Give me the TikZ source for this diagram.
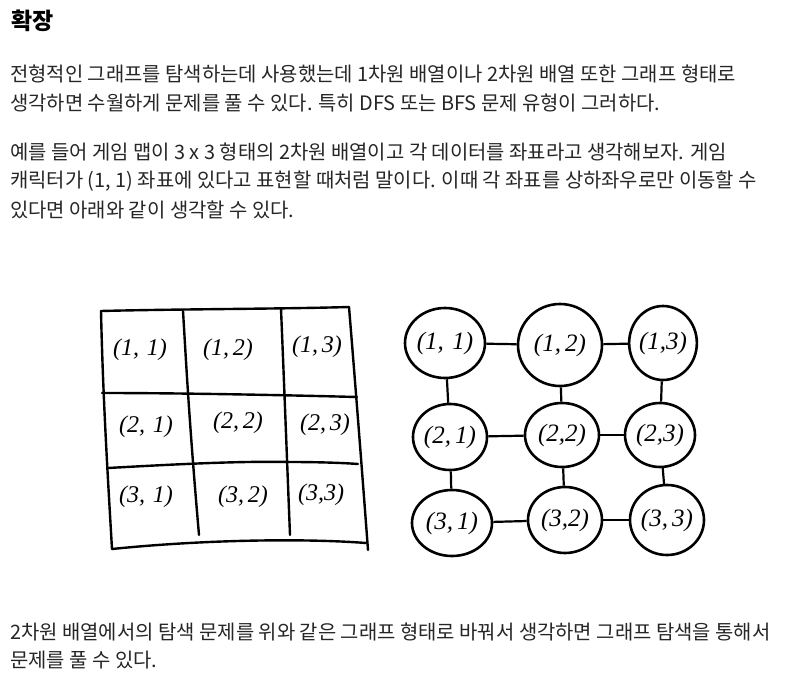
\documentclass[tikz,border=0pt]{standalone}
\usepackage{fontspec}
\setmainfont{Noto Sans CJK KR}
\newfontfamily\handfont{Liberation Serif}
\usetikzlibrary{shapes.geometric}
\begin{document}
\begin{tikzpicture}[x=1pt,y=-1pt,
  txt/.style={anchor=west, inner sep=0pt, font=\fontsize{19.9}{24}\selectfont, text=black!85},
  ttl/.style={anchor=west, inner sep=0pt, font=\fontsize{23}{27}\selectfont\bfseries},
  hand/.style={inner sep=0pt, font=\handfont\itshape\fontsize{24}{28}\selectfont},
  pen/.style={line width=2.4pt, line cap=round, line join=round},
  vtx/.style={ellipse, draw, line width=2.6pt, inner sep=0pt, font=\handfont\itshape\fontsize{25}{28}\selectfont},
  edge/.style={line width=2.2pt}]
\useasboundingbox (0,0) rectangle (787,687);
\fill[white] (0,0) rectangle (787,687);
% text
\node[ttl] (title) at (11,21) {확장};
\node[txt] (p1a) at (10,74) {전형적인 그래프를 탐색하는데 사용했는데 1차원 배열이나 2차원 배열 또한 그래프 형태로};
\node[txt] (p1b) at (10,103) {생각하면 수월하게 문제를 풀 수 있다. 특히 DFS 또는 BFS 문제 유형이 그러하다.};
\node[txt] (p2a) at (10,152) {예를 들어 게임 맵이 3 x 3 형태의 2차원 배열이고 각 데이터를 좌표라고 생각해보자. 게임};
\node[txt] (p2b) at (10,181) {캐릭터가 (1, 1) 좌표에 있다고 표현할 때처럼 말이다. 이때 각 좌표를 상하좌우로만 이동할 수};
\node[txt] (p2c) at (10,210) {있다면 아래와 같이 생각할 수 있다.};
\node[txt] (p3a) at (10,632) {2차원 배열에서의 탐색 문제를 위와 같은 그래프 형태로 바꿔서 생각하면 그래프 탐색을 통해서};
\node[txt] (p3b) at (10,660) {문제를 풀 수 있다.};
% grid
\coordinate (TL) at (101,311);
\coordinate (TR) at (349,307);
\coordinate (BL) at (112,549);
\coordinate (BR) at (368,550);
\draw[pen] (TL) .. controls (180,309) and (280,309) .. (TR);
\draw[pen] (TL) .. controls (103,400) and (108,480) .. (BL);
\draw[pen] (BL) .. controls (200,540) and (300,538) .. (366,543);
\draw[pen] (TR) .. controls (355,380) and (362,470) .. (BR);
\draw[pen] (102,393) .. controls (180,393) and (280,395) .. (357,397);
\draw[pen] (108,468) .. controls (180,464) and (240,461) .. (290,462) .. controls (320,462) and (345,463) .. (358,464);
\draw[pen] (183,311) .. controls (186,360) and (189,420) .. (199,535);
\draw[pen] (281,309) .. controls (284,380) and (287,460) .. (290,535);
\node[hand] (g11) at (140,350) {(1,\,\,1)};
\node[hand] (g12) at (228,350) {(1,\,2)};
\node[hand] (g13) at (317,347) {(1,\,3)};
\node[hand] (g21) at (146,427) {(2,\,\,1)};
\node[hand] (g22) at (238,423) {(2,\,2)};
\node[hand] (g23) at (325,425) {(2,\,3)};
\node[hand] (g31) at (146,497) {(3,\,\,1)};
\node[hand] (g32) at (243,497) {(3,\,2)};
\node[hand] (g33) at (321,495) {(3,3)};
% graph
\node[vtx, minimum width=80pt, minimum height=70pt] (n11) at (445,343) {(1,\,\,1)};
\node[vtx, minimum width=84pt, minimum height=82pt] (n12) at (560,345) {(1,\,2)};
\node[vtx, minimum width=64pt, minimum height=74pt] (n13) at (663,343) {(1,3)};
\node[vtx, minimum width=74pt, minimum height=66pt] (n21) at (450,437) {(2,\,1)};
\node[vtx, minimum width=74pt, minimum height=64pt] (n22) at (562,435) {(2,2)};
\node[vtx, minimum width=70pt, minimum height=64pt] (n23) at (660,435) {(2,3)};
\node[vtx, minimum width=80pt, minimum height=66pt] (n31) at (452,523) {(3,\,1)};
\node[vtx, minimum width=74pt, minimum height=66pt] (n32) at (565,520) {(3,2)};
\node[vtx, minimum width=74pt, minimum height=70pt] (n33) at (667,520) {(3,\,3)};
\draw[edge] (n11) -- (n12);
\draw[edge] (n12) -- (n13);
\draw[edge] (n21) -- (n22);
\draw[edge] (n22) -- (n23);
\draw[edge] (n31) -- (n32);
\draw[edge] (n32) -- (n33);
\draw[edge] (n11) -- (n21);
\draw[edge] (n21) -- (n31);
\draw[edge] (n12) -- (n22);
\draw[edge] (n22) -- (n32);
\draw[edge] (n13) -- (n23);
\draw[edge] (n23) -- (n33);
\end{tikzpicture}
\end{document}
